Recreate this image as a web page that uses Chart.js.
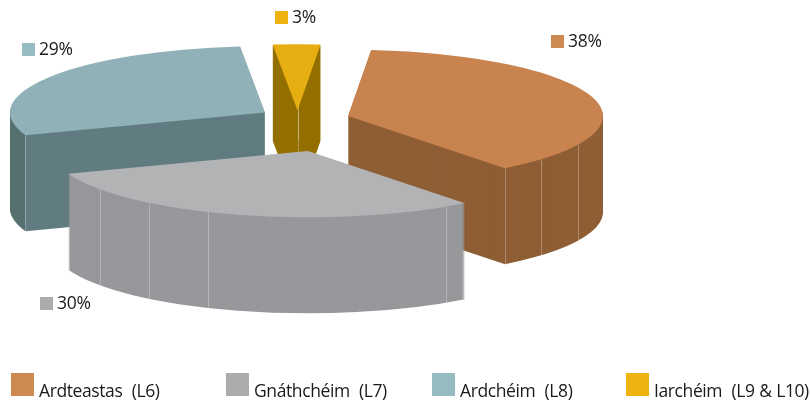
<!DOCTYPE html>
<html>
<head>
<meta charset="utf-8">
<script src="https://cdn.jsdelivr.net/npm/chart.js@4/dist/chart.umd.min.js"></script>
<style>
    html, body { margin: 0; padding: 0; background: #fff; overflow: hidden; }
    #wrap { position: relative; width: 810px; height: 405px; font-family: "Open Sans", sans-serif; color: #1a1a1a; }
    #chart { position: absolute; left: 0; top: 0; }
    .swatch { position: absolute; }
    .txt { position: absolute; white-space: pre; line-height: 20px; }
    .pct { font-size: 17.5px; letter-spacing: -0.3px; }
    .leg { font-size: 17.5px; letter-spacing: -0.4px; word-spacing: 0.5px; }
</style>
</head>
<body>
<div id="wrap"><canvas id="chart" width="810" height="405"></canvas></div>
<script>
// Data
const categories = ['Ardteastas  (L6)', 'Gnáthchéim  (L7)', 'Ardchéim  (L8)', 'Iarchéim  (L9 & L10)'];
const shares = [38, 30, 29, 3];

// Styles
const topColors = ['#c8834e', '#b1b3b5', '#8fb1b7', '#e6ae10'];
const wallColors = ['#8f5e35', '#97989b', '#607c80', '#947000'];
const curveWallColors = ['#8f5e35', '#97989b', '#56706f', '#947000'];
const keyColors = ['#cd8a50', '#abacae', '#96bbc0', '#efb30f'];

// Layout of the exploded 3D look
const startDeg = 5.2;
const radius = 255;
const squash = 0.26;
const depth = 96;
const drawOrder = [3, 2, 0, 1];
const apexX = [348, 308, 265, 297.5];
const apexY = [116, 151, 112.5, 110.5];
// seams on the side walls, degrees clockwise from 12 o'clock
const seamDegs = [[115.6, 130.8, 142], [147.2, 203.1, 218.6, 234.7], [250], [0]];
const apexSeams = [true, false, false, true];

const pctX = [551, 40, 22, 275];
const pctY = [35, 297, 43, 11];
const legendX = [11, 226, 432, 626];

function drawSlice(arc, i, ctx) {
    const k = radius / arc.outerRadius;
    const place = (dy) => {
        ctx.translate(apexX[i], apexY[i] + dy);
        ctx.scale(k, k * squash);
        ctx.translate(-arc.x, -arc.y);
    };

    // wall: the slice stacked downwards
    const base = arc.options;
    let wallFill = wallColors[i];
    if (curveWallColors[i] !== wallColors[i]) {
        const seamX = arc.x + arc.outerRadius * Math.sin(seamDegs[i][0] * Math.PI / 180);
        const grad = ctx.createLinearGradient(seamX - 40, 0, seamX, 0);
        grad.addColorStop(0, curveWallColors[i]);
        grad.addColorStop(0.99, curveWallColors[i]);
        grad.addColorStop(1, wallColors[i]);
        wallFill = grad;
    }
    arc.options = Object.assign(Object.create(base), { backgroundColor: wallFill });
    for (let dy = depth; dy > 0; dy--) {
        ctx.save();
        place(dy);
        arc.draw(ctx);
        ctx.restore();
    }
    arc.options = base;

    // seams
    ctx.save();
    ctx.strokeStyle = 'rgba(255,255,255,0.28)';
    ctx.lineWidth = 1;
    const seam = (x, y) => {
        ctx.beginPath();
        ctx.moveTo(Math.round(x) + 0.5, y);
        ctx.lineTo(Math.round(x) + 0.5, y + depth);
        ctx.stroke();
    };
    seamDegs[i].forEach(d => {
        const a = d * Math.PI / 180;
        seam(apexX[i] + radius * Math.sin(a), apexY[i] - radius * squash * Math.cos(a));
    });
    if (apexSeams[i]) seam(apexX[i], apexY[i]);
    ctx.restore();

    // top face
    ctx.save();
    place(0);
    arc.draw(ctx);
    ctx.restore();
}

const pie3d = {
    id: 'pie3d',
    beforeDatasetDraw(chart, args) {
        const arcs = chart.getDatasetMeta(args.index).data;
        drawOrder.forEach(i => drawSlice(arcs[i], i, chart.ctx));
        return false;
    }
};

new Chart(document.getElementById('chart').getContext('2d'), {
    type: 'pie',
    data: {
        labels: categories,
        datasets: [{ data: shares, backgroundColor: topColors, borderWidth: 0, offset: 0 }]
    },
    options: {
        responsive: false,
        animation: false,
        rotation: startDeg,
        layout: { padding: 0 },
        plugins: { legend: { display: false }, tooltip: { enabled: false } }
    },
    plugins: [pie3d]
});

// Labels and legend
const wrap = document.getElementById('wrap');

function addBox(x, y, size, color) {
    const el = document.createElement('div');
    el.className = 'swatch';
    el.style.cssText = `left:${x}px;top:${y}px;width:${size}px;height:${size}px;background:${color}`;
    wrap.appendChild(el);
}

function addText(x, y, cls, text) {
    const el = document.createElement('div');
    el.className = 'txt ' + cls;
    el.style.left = x + 'px';
    el.style.top = y + 'px';
    el.textContent = text;
    wrap.appendChild(el);
}

shares.forEach((v, i) => {
    addBox(pctX[i], pctY[i], 13, keyColors[i]);
    addText(pctX[i] + 17, pctY[i] - 5, 'pct', v + '%');
});

categories.forEach((name, i) => {
    addBox(legendX[i], 373, 23, keyColors[i]);
    addText(legendX[i] + 28, 380, 'leg', name);
});
</script>
</body>
</html>
